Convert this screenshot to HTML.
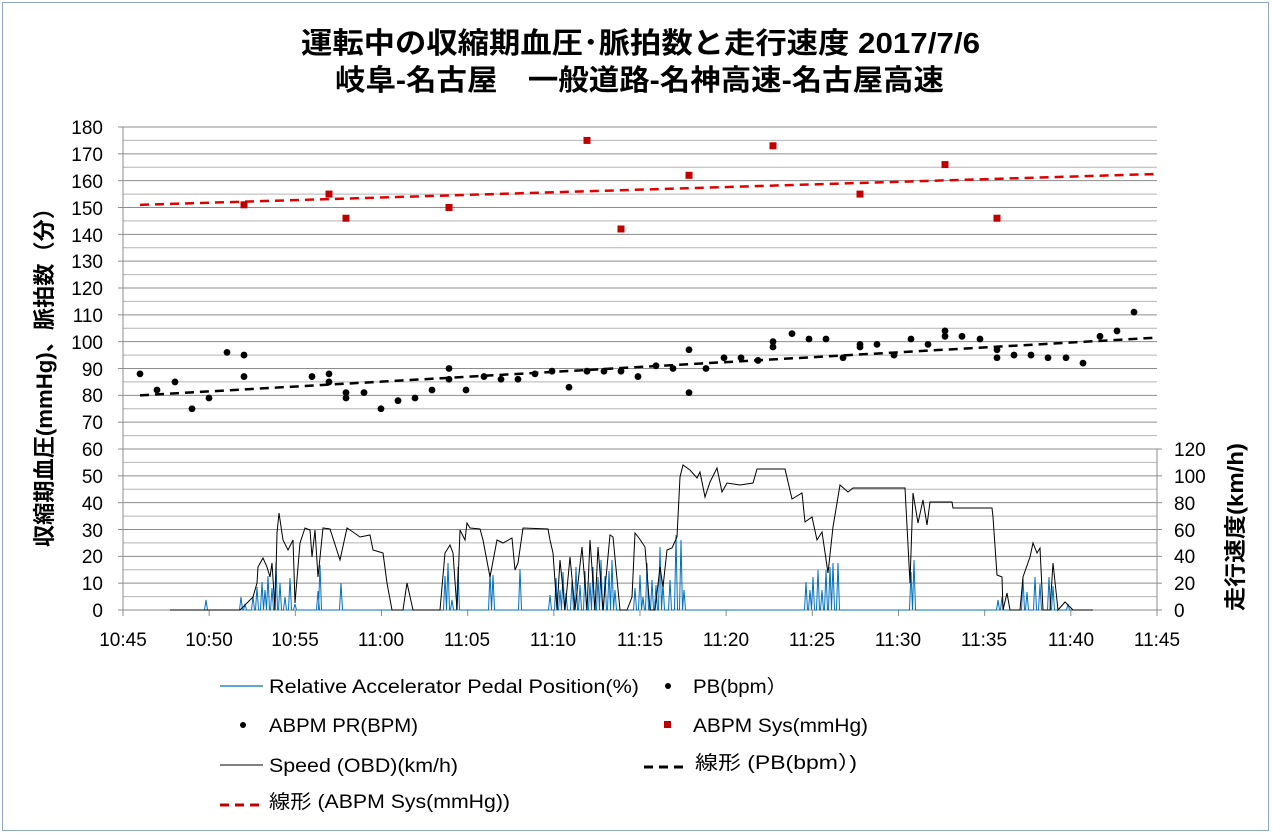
<!DOCTYPE html>
<html><head><meta charset="utf-8"><style>
html,body{margin:0;padding:0;background:#fff;}
svg{display:block;font-family:"Liberation Sans","Noto Sans CJK JP",sans-serif;}
</style></head><body>
<svg id="s" width="1273" height="835" viewBox="0 0 1273 835" xmlns="http://www.w3.org/2000/svg">
<rect x="0" y="0" width="1273" height="835" fill="#fff"/>
<rect x="2.5" y="2.5" width="1266" height="828" fill="none" stroke="#8fa8c8" stroke-width="1"/>
<g id="grid"></g>
<g font-size="29" font-weight="bold" fill="#000">
<text x="301" y="53" textLength="679" lengthAdjust="spacingAndGlyphs">運転中の収縮期血圧･脈拍数と走行速度  2017/7/6</text>
<text x="335" y="90" textLength="609" lengthAdjust="spacingAndGlyphs">岐阜-名古屋　一般道路-名神高速-名古屋高速</text>
</g>
<g font-size="19" text-anchor="end" fill="#000">
<text x="103" y="134">180</text><text x="103" y="161">170</text><text x="103" y="188">160</text><text x="103" y="215">150</text><text x="103" y="242">140</text><text x="103" y="268">130</text><text x="103" y="295">120</text><text x="103" y="322">110</text><text x="103" y="349">100</text><text x="103" y="376">90</text><text x="103" y="402">80</text><text x="103" y="429">70</text><text x="103" y="456">60</text><text x="103" y="483">50</text><text x="103" y="510">40</text><text x="103" y="537">30</text><text x="103" y="563">20</text><text x="103" y="590">10</text><text x="103" y="617">0</text>
</g>
<g font-size="19" text-anchor="start" fill="#000">
<text x="1174" y="456">120</text><text x="1174" y="483">100</text><text x="1174" y="510">80</text><text x="1174" y="537">60</text><text x="1174" y="563">40</text><text x="1174" y="590">20</text><text x="1174" y="617">0</text>
</g>
<g font-size="19" text-anchor="middle" fill="#000">
<text x="123" y="646">10:45</text><text x="209" y="646">10:50</text><text x="295" y="646">10:55</text><text x="381" y="646">11:00</text><text x="467" y="646">11:05</text><text x="553" y="646">11:10</text><text x="640" y="646">11:15</text><text x="726" y="646">11:20</text><text x="812" y="646">11:25</text><text x="898" y="646">11:30</text><text x="984" y="646">11:35</text><text x="1071" y="646">11:40</text><text x="1157" y="646">11:45</text>
</g>
<text x="0" y="0" font-size="22" font-weight="bold" text-anchor="middle" transform="translate(52,372) rotate(-90)" textLength="350" lengthAdjust="spacingAndGlyphs">収縮期血圧(mmHg)、脈拍数（分）</text>
<text x="0" y="0" font-size="22" font-weight="bold" text-anchor="middle" transform="translate(1243,527) rotate(-90)" textLength="168" lengthAdjust="spacingAndGlyphs">走行速度(km/h)</text>
<g id="data"></g>
<g font-size="19" fill="#000">
<line x1="220" y1="686" x2="263" y2="686" stroke="#0070c0" stroke-width="1.2"/>
<text x="269" y="693" textLength="370" lengthAdjust="spacingAndGlyphs">Relative Accelerator Pedal Position(%)</text>
<circle cx="668" cy="686" r="3" fill="#000"/>
<text x="693" y="693" textLength="94" lengthAdjust="spacingAndGlyphs">PB(bpm）</text>
<circle cx="243" cy="725" r="3" fill="#000"/>
<text x="269" y="732" textLength="149" lengthAdjust="spacingAndGlyphs">ABPM PR(BPM)</text>
<rect x="664" y="721" width="7" height="7" fill="#c00000"/>
<text x="693" y="732" textLength="175" lengthAdjust="spacingAndGlyphs">ABPM Sys(mmHg)</text>
<line x1="220" y1="765" x2="263" y2="765" stroke="#000" stroke-width="1"/>
<text x="269" y="772" textLength="189" lengthAdjust="spacingAndGlyphs">Speed (OBD)(km/h)</text>
<line x1="644" y1="767" x2="689" y2="767" stroke="#000" stroke-width="3" stroke-dasharray="9,6"/>
<text x="695" y="769" textLength="162" lengthAdjust="spacingAndGlyphs">線形 (PB(bpm）)</text>
<line x1="220" y1="805" x2="265" y2="805" stroke="#c00000" stroke-width="3" stroke-dasharray="9,6"/>
<text x="269" y="808" textLength="241" lengthAdjust="spacingAndGlyphs">線形 (ABPM Sys(mmHg))</text>
</g>
</svg>
<script>
var NS="http://www.w3.org/2000/svg";
function el(p,t,a){var e=document.createElementNS(NS,t);for(var k in a)e.setAttribute(k,a[k]);p.appendChild(e);return e;}
var g=document.getElementById("grid"),d=document.getElementById("data");
var L=123,R=1157,T=127,B=610,u=(B-T)/180;
function Y(v){return B-v*u;}
for(var v=5;v<=180;v+=5){el(g,"line",{x1:L,x2:R,y1:Y(v),y2:Y(v),stroke:(v%10==0)?"#8c8c8c":"#b4b4b4","stroke-width":1});}
el(g,"line",{x1:L,x2:L,y1:T,y2:B,stroke:"#8c8c8c"});
el(g,"line",{x1:R,x2:R,y1:Y(60),y2:B,stroke:"#8c8c8c"});
el(g,"line",{x1:L,x2:R,y1:B,y2:B,stroke:"#8c8c8c"});
for(var v=0;v<=180;v+=10)el(g,"line",{x1:L-5,x2:L,y1:Y(v),y2:Y(v),stroke:"#8c8c8c"});
for(var v=0;v<=60;v+=10)el(g,"line",{x1:R,x2:R+5,y1:Y(v),y2:Y(v),stroke:"#8c8c8c"});
for(var i=0;i<=12;i++){var x=L+i*(R-L)/12;el(g,"line",{x1:x,x2:x,y1:B,y2:B+6,stroke:"#8c8c8c"});}
var sp=[[206,600],[241,597],[245,604],[253,596],[257,587],[262,582],[265,590],[268,576],[272,588],[276,562],[280,583],[285,597],[290,578],[295,604],[318,591],[320,565],[341,583],[445,576],[448,563],[452,600],[458,567],[490,573],[493,575],[520,569],[550,595],[556,578],[560,590],[563,572],[566,593],[572,580],[576,567],[580,585],[585,571],[590,583],[593,567],[598,577],[601,560],[605,576],[609,571],[612,560],[615,590],[635,588],[640,575],[643,597],[647,563],[652,580],[656,585],[660,547],[663,583],[670,580],[676,535],[681,540],[684,590],[806,582],[810,590],[813,577],[818,570],[822,590],[826,570],[830,567],[833,563],[838,563],[911,572],[914,560],[998,600],[1002,597],[1023,578],[1027,592],[1035,577],[1040,584],[1049,577],[1053,586],[1068,604]];
var bp="M170,610";sp.forEach(function(p){bp+=" L"+(p[0]-1.5)+",610 L"+p[0]+","+p[1]+" L"+(p[0]+1.5)+",610";});bp+=" L1093,610";
el(d,"path",{d:bp,fill:"none",stroke:"#0070c0","stroke-width":1});
var s=[[170,610],[240,610],[253,597],[257,583],[258,567],[263,558],[267,567],[270,577],[272,563],[275,610],[277,533],[279,513],[283,540],[288,550],[293,540],[295,603],[300,543],[305,528],[310,530],[312,557],[315,530],[318,577],[323,528],[330,529],[340,560],[347,528],[353,532],[360,537],[370,535],[373,550],[383,553],[387,583],[392,610],[403,610],[407,583],[413,610],[440,610],[445,553],[450,545],[453,553],[457,610],[460,530],[465,540],[467,523],[470,528],[480,529],[483,540],[490,577],[497,540],[503,543],[512,538],[515,570],[518,563],[523,528],[548,529],[550,540],[553,553],[557,610],[560,560],[565,610],[570,557],[575,610],[582,547],[587,610],[590,540],[595,610],[598,547],[603,610],[610,535],[613,537],[620,610],[627,610],[632,597],[635,533],[639,538],[645,547],[650,610],[655,610],[660,567],[663,587],[667,550],[672,548],[677,537],[680,477],[683,465],[690,470],[697,478],[700,472],[705,497],[710,482],[717,468],[722,492],[727,483],[740,485],[753,483],[757,469],[785,469],[792,499],[802,493],[805,522],[812,517],[817,540],[822,532],[828,573],[833,527],[840,485],[848,492],[853,488],[905,488],[910,583],[913,493],[918,523],[923,500],[927,525],[930,502],[952,502],[953,508],[992,508],[993,517],[997,575],[1002,577],[1003,610],[1007,593],[1010,610],[1020,610],[1023,577],[1030,557],[1033,543],[1037,553],[1040,548],[1043,610],[1050,610],[1053,563],[1058,610],[1065,602],[1070,607],[1073,610],[1093,610]];
el(d,"polyline",{points:s.map(function(p){return p.join(",")}).join(" "),fill:"none",stroke:"#000","stroke-width":1});
el(d,"line",{x1:140,y1:Y(151),x2:1157,y2:Y(162.5),stroke:"#e00000","stroke-width":2.5,"stroke-dasharray":"9,6"});
el(d,"line",{x1:140,y1:Y(80),x2:1157,y2:Y(101.5),stroke:"#000","stroke-width":2.5,"stroke-dasharray":"9,6"});
var pr=[[140,88],[157,82],[175,85],[192,75],[209,79],[227,96],[244,95],[244,87],[312,87],[329,88],[329,85],[346,81],[346,79],[364,81],[381,75],[398,78],[415,79],[432,82],[449,90],[449,86],[466,82],[484,87],[501,86],[518,86],[535,88],[552,89],[569,83],[587,89],[604,89],[621,89],[638,87],[656,91],[673,90],[689,97],[689,81],[706,90],[724,94],[741,94],[758,93],[773,100],[773,98],[792,103],[809,101],[826,101],[843,94],[860,99],[860,98],[877,99],[894,95],[911,101],[928,99],[945,104],[945,102],[962,102],[980,101],[997,97],[997,94],[1014,95],[1031,95],[1048,94],[1066,94],[1083,92],[1100,102],[1117,104],[1134,111]];
pr.forEach(function(p){el(d,"circle",{cx:p[0],cy:Y(p[1]),r:3.4,fill:"#000"});});
var sy=[[244,151],[329,155],[346,146],[449,150],[587,175],[621,142],[689,162],[773,173],[860,155],[945,166],[997,146]];
sy.forEach(function(p){el(d,"rect",{x:p[0]-3.5,y:Y(p[1])-3.5,width:7,height:7,fill:"#c00000"});});
</script>
</body></html>
